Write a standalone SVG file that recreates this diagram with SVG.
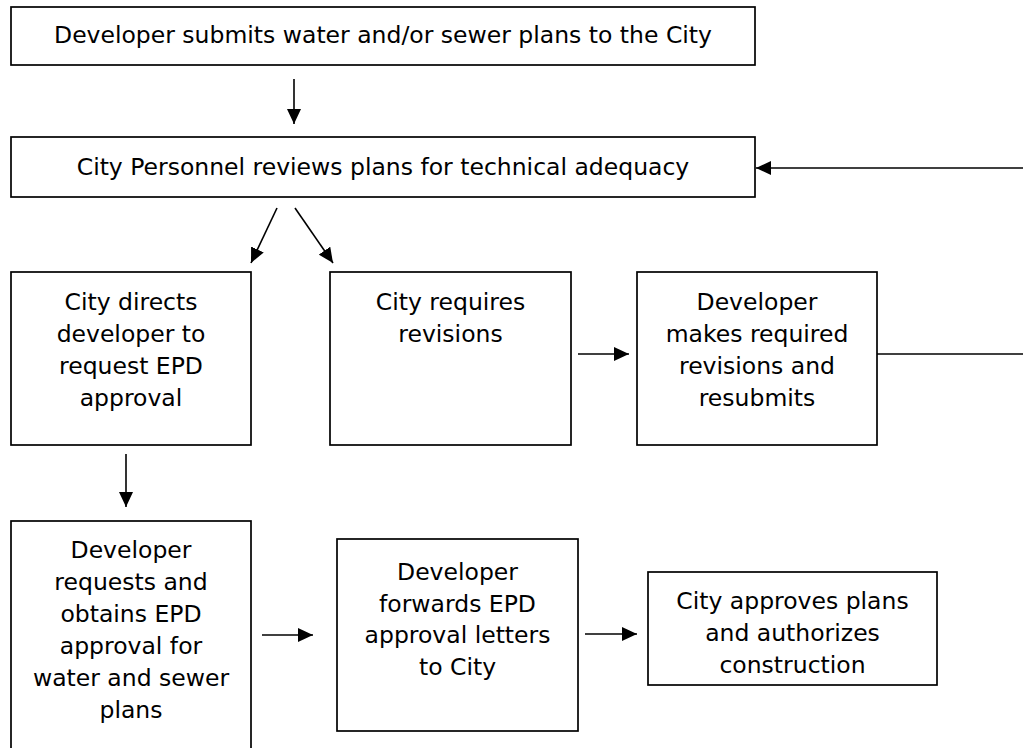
<svg xmlns="http://www.w3.org/2000/svg" width="1023" height="748" viewBox="0 0 1023 748">
<style>
.box{fill:#fff;stroke:#000;stroke-width:1.7}
.t{font-family:"DejaVu Sans","Verdana",sans-serif;font-size:23.5px;fill:#000;text-anchor:middle}
.c{stroke:#000;stroke-width:1.6;fill:none}
</style>
<defs>
<marker id="ah" markerUnits="userSpaceOnUse" markerWidth="16" markerHeight="14" refX="15" refY="7" orient="auto">
<path d="M0,0 L15,7 L0,14 z" fill="#000"/>
</marker>
</defs>
<rect width="1023" height="748" fill="#fff"/>
<g id="connectors">
<line class="c" x1="294" y1="79" x2="294" y2="124" marker-end="url(#ah)"/>
<line class="c" x1="1023" y1="168" x2="756" y2="168" marker-end="url(#ah)"/>
<line class="c" x1="277" y1="208" x2="251" y2="263" marker-end="url(#ah)"/>
<line class="c" x1="295" y1="208" x2="333" y2="263" marker-end="url(#ah)"/>
<line class="c" x1="578" y1="354" x2="629" y2="354" marker-end="url(#ah)"/>
<line class="c" x1="877" y1="354" x2="1023" y2="354"/>
<line class="c" x1="126" y1="454" x2="126" y2="507" marker-end="url(#ah)"/>
<line class="c" x1="262" y1="635" x2="313" y2="635" marker-end="url(#ah)"/>
<line class="c" x1="585" y1="634" x2="637" y2="634" marker-end="url(#ah)"/>
</g>
<g id="submit">
<rect class="box" x="11" y="7" width="744" height="58"/>
<text class="t" x="383" y="43">Developer submits water and/or sewer plans to the City</text>
</g>
<g id="review">
<rect class="box" x="11" y="137" width="744" height="60"/>
<text class="t" x="383" y="175">City Personnel reviews plans for technical adequacy</text>
</g>
<g id="directs">
<rect class="box" x="11" y="272" width="240" height="173"/>
<text class="t" x="131" y="310">City directs</text>
<text class="t" x="131" y="342">developer to</text>
<text class="t" x="131" y="374">request EPD</text>
<text class="t" x="131" y="406">approval</text>
</g>
<g id="requires">
<rect class="box" x="330" y="272" width="241" height="173"/>
<text class="t" x="450.5" y="310">City requires</text>
<text class="t" x="450.5" y="342">revisions</text>
</g>
<g id="resubmits">
<rect class="box" x="637" y="272" width="240" height="173"/>
<text class="t" x="757" y="310">Developer</text>
<text class="t" x="757" y="342">makes required</text>
<text class="t" x="757" y="374">revisions and</text>
<text class="t" x="757" y="406">resubmits</text>
</g>
<g id="obtains">
<rect class="box" x="11" y="521" width="240" height="240"/>
<text class="t" x="131" y="558">Developer</text>
<text class="t" x="131" y="590">requests and</text>
<text class="t" x="131" y="622">obtains EPD</text>
<text class="t" x="131" y="654">approval for</text>
<text class="t" x="131" y="686">water and sewer</text>
<text class="t" x="131" y="718">plans</text>
</g>
<g id="forwards">
<rect class="box" x="337" y="539" width="241" height="192"/>
<text class="t" x="457.5" y="580">Developer</text>
<text class="t" x="457.5" y="612">forwards EPD</text>
<text class="t" x="457.5" y="643">approval letters</text>
<text class="t" x="457.5" y="675">to City</text>
</g>
<g id="approves">
<rect class="box" x="648" y="572" width="289" height="113"/>
<text class="t" x="792.5" y="609">City approves plans</text>
<text class="t" x="792.5" y="641">and authorizes</text>
<text class="t" x="792.5" y="673">construction</text>
</g>
</svg>
